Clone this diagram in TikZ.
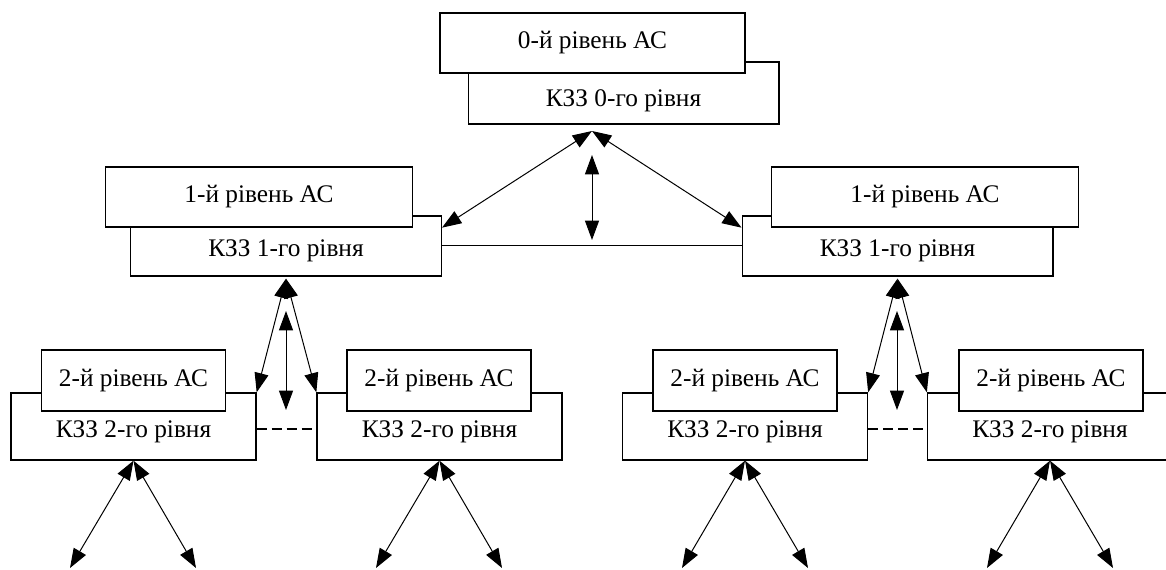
\documentclass[tikz,border=0pt]{standalone}
\usepackage{fontspec}
\setmainfont{Liberation Serif}
\usetikzlibrary{arrows.meta}

\begin{document}
\begin{tikzpicture}[x=0.75pt,y=-0.75pt,>={Triangle[length=14.5pt,width=10.5pt]},line width=0.75pt,font=\fontsize{19}{22}\selectfont]
      \tikzstyle{box}=[draw,fill=white,line width=1pt,inner sep=0pt]
      \tikzstyle{as}=[box,minimum width=230pt,minimum height=45pt]
      \tikzstyle{kzz}=[box,minimum width=233pt,minimum height=45pt,text height=16pt,text depth=0pt]
      \tikzstyle{astwo}=[box,minimum width=138pt,minimum height=45.75pt]
      \tikzstyle{kzztwo}=[box,minimum width=183.75pt,minimum height=50.25pt,text height=16pt,text depth=0pt]
      \clip (0,0) rectangle (1166,570);

      % level 0
      \node(kzz0) [kzz,minimum height=46.5pt,text height=21pt] at (623.5,93) {КЗЗ 0-го рівня};
      \node(as0) [as,minimum width=228.75pt] at (592.5,43) {0-й рівень АС};

      % level 1
      \node(kzz1l) [kzz] at (286,246) {КЗЗ 1-го рівня};
      \node(as1l) [as] at (259,197) {1-й рівень АС};
      \node(kzz1r) [kzz] at (897.5,246) {КЗЗ 1-го рівня};
      \node(as1r) [as] at (925,197) {1-й рівень АС};

      % level 2
      \node(kzz2a) [kzztwo] at (133.5,426.5) {КЗЗ 2-го рівня};
      \node(as2a) [astwo] at (133.5,380.5) {2-й рівень АС};
      \node(kzz2b) [kzztwo] at (439.5,426.5) {КЗЗ 2-го рівня};
      \node(as2b) [astwo] at (439,380.5) {2-й рівень АС};
      \node(kzz2c) [kzztwo] at (745,426.5) {КЗЗ 2-го рівня};
      \node(as2c) [astwo] at (745,380.5) {2-й рівень АС};
      \node(kzz2d) [kzztwo] at (1050,426.5) {КЗЗ 2-го рівня};
      \node(as2d) [astwo] at (1051,380.5) {2-й рівень АС};

      \coordinate (p0) at (592,131);
      \coordinate (v0a) at (592,155);
      \coordinate (v0b) at (592,240);
      \coordinate (v1la) at (286,311);
      \coordinate (v1lb) at (286,410);
      \coordinate (v1ra) at (897,311);
      \coordinate (v1rb) at (897,410);

      \draw (p0) edge [<->] (kzz1l.east |- as1l.south) edge [<->] (kzz1r.west |- as1r.south);
      \draw (v0a) edge [<->] (v0b);
      \draw (kzz1l.east) -- (kzz1r.west);

      \draw ([yshift=-1.5pt]kzz1l.south) edge [<->] (kzz2a.north east) edge [<->] (kzz2b.north west);
      \draw (v1la) edge [<->] (v1lb);
      \draw ([yshift=-1.5pt]kzz1r.south) edge [<->] (kzz2c.north east) edge [<->] (kzz2d.north west);
      \draw (v1ra) edge [<->] (v1rb);

      \draw [dashed,line width=1.5pt,dash pattern=on 7.5pt off 3.75pt] ([yshift=-2pt]kzz2a.east) -- ([yshift=-2pt]kzz2b.west);
      \draw [dashed,line width=1.5pt,dash pattern=on 7.5pt off 3.75pt] ([yshift=-2pt]kzz2c.east) -- ([yshift=-2pt]kzz2d.west);

      % free ends below
      \coordinate (ea1) at (70,568);
      \coordinate (ea2) at (196,568);
      \coordinate (eb1) at (376,568);
      \coordinate (eb2) at (502,568);
      \coordinate (ec1) at (682,568);
      \coordinate (ec2) at (808,568);
      \coordinate (ed1) at (987,568);
      \coordinate (ed2) at (1113,568);
      \draw (kzz2a.south) edge [<->] (ea1) edge [<->] (ea2);
      \draw (kzz2b.south) edge [<->] (eb1) edge [<->] (eb2);
      \draw (kzz2c.south) edge [<->] (ec1) edge [<->] (ec2);
      \draw (kzz2d.south) edge [<->] (ed1) edge [<->] (ed2);
    \end{tikzpicture}
\end{document}
